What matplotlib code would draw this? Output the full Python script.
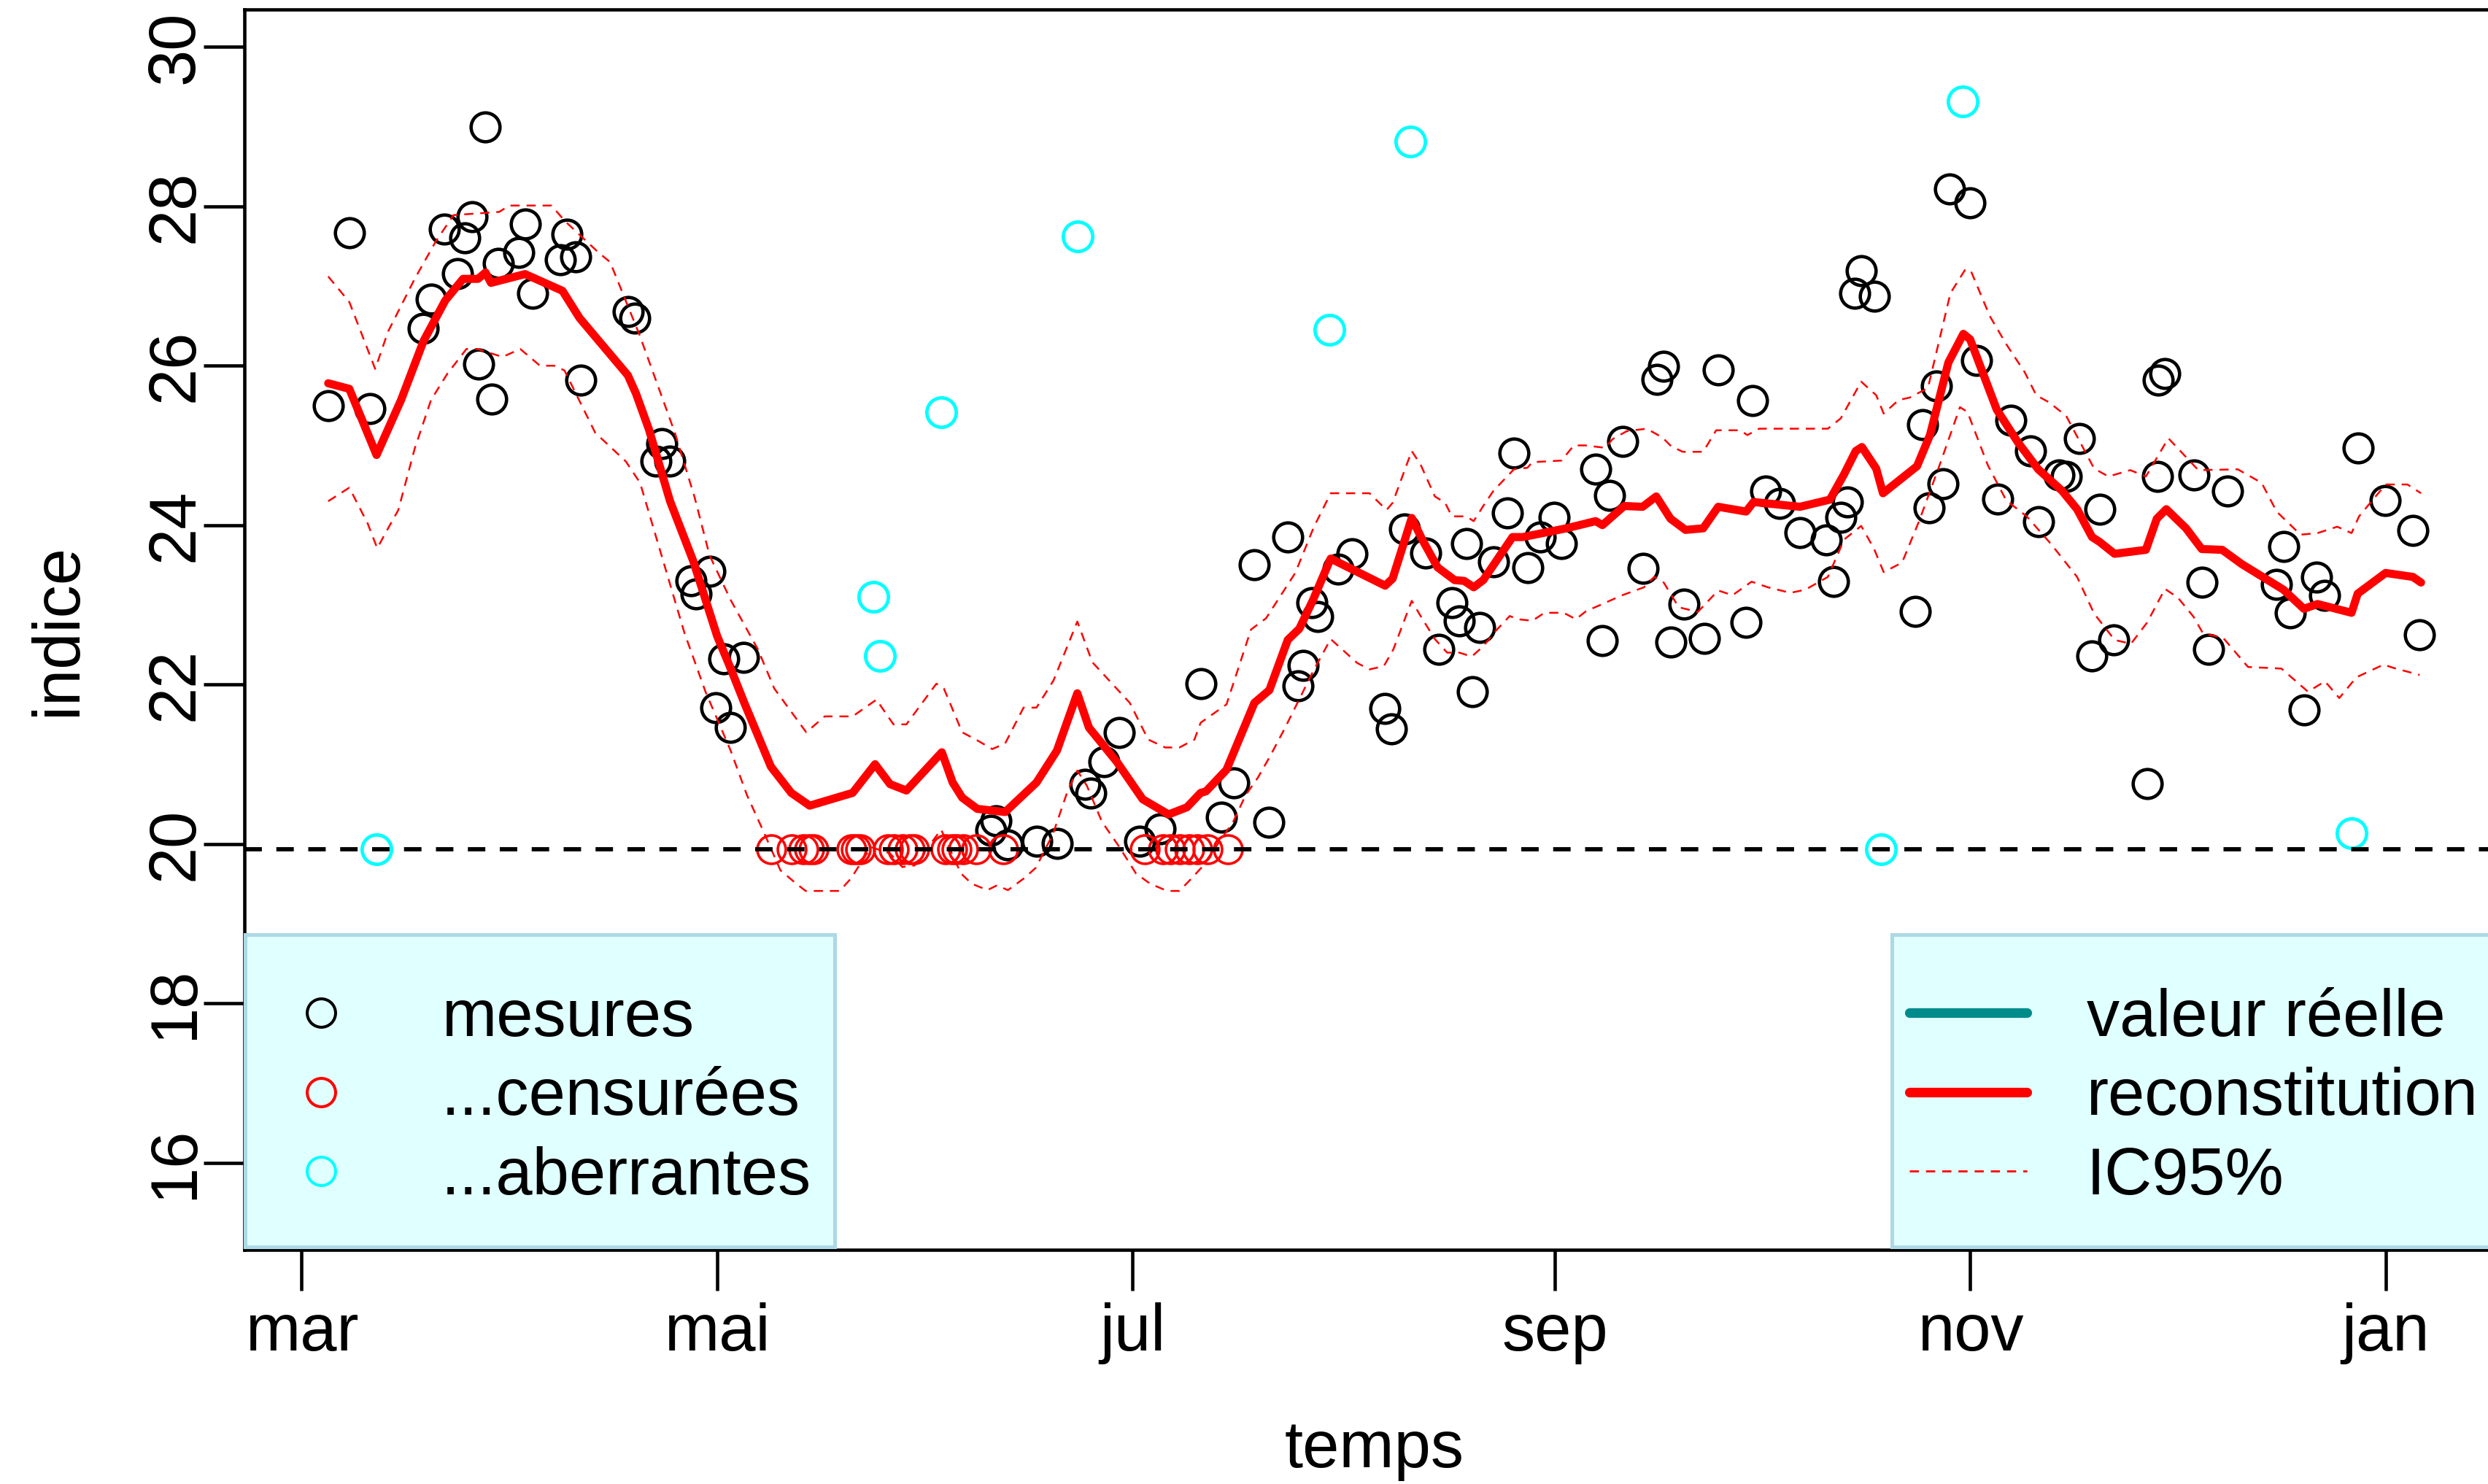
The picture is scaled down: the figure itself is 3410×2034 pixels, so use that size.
import matplotlib
matplotlib.use("Agg")
import matplotlib.pyplot as plt
from matplotlib.lines import Line2D
from matplotlib.patches import Rectangle

# ---------------- data (days since 1 March) ----------------
month_days = [0, 61, 122, 184, 245, 306]
month_labels = ["mar", "mai", "jul", "sep", "nov", "jan"]
y_ticks = [16, 18, 20, 22, 24, 26, 28, 30]

cens_level = 19.93

mes_days = [3.9, 7.0, 10.0, 17.9, 19.0, 21.0, 22.9, 24.0, 25.0, 26.0, 27.0, 27.9, 28.9,
            31.9, 32.9, 33.9, 38.0, 38.9, 40.2, 41.0, 47.9, 48.9, 52.0, 52.9, 54.1, 57.2,
            57.9, 59.9, 60.8, 62.0, 62.9, 64.9, 101.2, 102.0, 103.7, 107.9, 110.9, 115.0,
            115.9, 117.8, 120.0, 123.0, 126.0, 132.0, 135.0, 136.9, 139.9, 142.0, 144.8,
            146.3, 147.0, 148.3, 149.2, 152.2, 154.2, 159.0, 160.0, 161.9, 165.0, 167.0,
            168.9, 170.0, 171.0, 171.9, 173.0, 175.0, 177.0, 178.0, 180.0, 181.9, 183.9,
            185.0, 190.0, 191.0, 192.0, 194.0, 197.0, 199.0, 200.0, 201.0, 203.0, 206.0,
            208.0, 212.1, 213.0, 215.0, 217.0, 220.0, 223.9, 224.9, 226.0, 227.0, 228.0,
            229.0, 230.9, 236.9, 238.0, 239.0, 240.0, 241.0, 242.0, 245.0, 245.9, 249.0,
            251.0, 253.9, 255.0, 258.0, 259.1, 261.0, 262.9, 264.0, 266.1, 271.0, 272.5,
            272.6, 273.6, 277.9, 279.0, 280.0, 282.8, 290.0, 291.0, 292.0, 294.0, 295.9,
            297.0, 302.0, 305.9, 310.0, 311.0]
mes_vals = [25.50, 27.67, 25.46, 26.47, 26.84, 27.71, 27.16, 27.60, 27.87, 26.02, 29.00,
            25.58, 27.28, 27.42, 27.78, 26.91, 27.33, 27.65, 27.37, 25.82, 26.68, 26.60,
            24.80, 25.02, 24.80, 23.30, 23.14, 23.42, 21.71, 22.32, 21.46, 22.34, 20.17,
            20.29, 19.99, 20.03, 20.01, 20.75, 20.64, 21.03, 21.40, 20.03, 20.19, 22.01,
            20.34, 20.77, 23.50, 20.27, 23.85, 21.98, 22.24, 23.03, 22.85, 23.45, 23.64,
            21.70, 21.44, 23.95, 23.65, 22.44, 23.03, 22.80, 23.77, 21.91, 22.72, 23.54,
            24.15, 24.90, 23.47, 23.85, 24.10, 23.77, 24.70, 22.55, 24.37, 25.05, 23.46,
            25.83, 25.99, 22.53, 23.01, 22.58, 25.95, 22.78, 25.56, 24.43, 24.27, 23.91,
            23.81, 23.29, 24.10, 24.29, 26.91, 27.19, 26.87, 22.92, 25.26, 24.22, 25.75,
            24.52, 28.22, 28.04, 26.07, 24.33, 25.32, 24.93, 24.04, 24.63, 24.61, 25.09,
            22.36, 24.20, 22.56, 20.76, 24.61, 25.82, 25.90, 24.63, 23.28, 22.44, 24.43,
            23.26, 23.73, 22.90, 21.68, 23.35, 23.12, 24.97, 24.31, 23.93, 22.62]

cens_days = [69.0, 71.9, 73.7, 74.5, 75.2, 80.7, 81.4, 82.0, 86.1, 87.0, 88.2, 89.3, 90.0,
             94.6, 95.5, 96.2, 97.1, 99.1, 103.0, 123.8, 126.5, 127.6, 128.9, 130.3, 131.5,
             133.0, 136.0]

aber_days = [10.95, 83.9, 84.9, 93.9, 114.0, 150.9, 162.8, 231.9, 243.9, 301.0]
aber_vals = [19.93, 23.10, 22.36, 25.42, 27.62, 26.45, 28.81, 19.93, 29.32, 20.13]

recon_days = [3.9, 7.0, 11.0, 14.6, 17.9, 21.1, 23.7, 25.9, 27.0, 27.8, 32.8, 38.3, 40.8,
              47.9, 49.1, 51.0, 54.1, 57.5, 61.0, 63.0, 65.0, 68.9, 71.9, 74.6, 80.9, 84.2,
              86.4, 88.8, 94.0, 95.6, 97.0, 99.2, 103.3, 107.9, 110.9, 113.9, 115.6, 119.7,
              123.5, 127.3, 130.0, 132.0, 132.8, 135.8, 139.9, 142.1, 144.8, 146.5, 148.5,
              151.1, 159.1, 160.2, 163.0, 164.6, 166.8, 169.3, 170.7, 172.1, 173.5, 177.8,
              179.3, 185.7, 190.0, 191.0, 194.2, 196.9, 198.9, 201.0, 203.2, 205.8, 208.0,
              212.1, 213.2, 220.0, 224.4, 226.5, 228.2, 229.1, 231.2, 232.2, 237.2, 239.1,
              241.8, 244.0, 245.0, 248.9, 252.0, 255.0, 258.5, 260.7, 262.9, 264.0, 266.2,
              270.8, 272.4, 273.8, 276.7, 279.0, 282.0, 284.9, 291.0, 294.0, 296.0, 301.0,
              301.9, 306.0, 310.0, 311.2]
recon_vals = [25.78, 25.71, 24.88, 25.57, 26.31, 26.82, 27.09, 27.09, 27.17, 27.04, 27.15,
              26.94, 26.60, 25.88, 25.65, 25.20, 24.30, 23.55, 22.61, 22.20, 21.77, 20.97,
              20.64, 20.48, 20.64, 21.00, 20.75, 20.67, 21.15, 20.77, 20.58, 20.44, 20.40,
              20.77, 21.17, 21.89, 21.46, 21.03, 20.56, 20.37, 20.46, 20.64, 20.66, 20.93,
              21.77, 21.93, 22.56, 22.70, 23.06, 23.58, 23.24, 23.33, 24.09, 23.81, 23.47,
              23.31, 23.30, 23.22, 23.31, 23.85, 23.85, 23.96, 24.05, 24.00, 24.24, 24.23,
              24.36, 24.08, 23.94, 23.96, 24.23, 24.17, 24.29, 24.23, 24.32, 24.64, 24.93,
              24.98, 24.71, 24.40, 24.74, 25.13, 26.04, 26.40, 26.33, 25.45, 25.04, 24.70,
              24.43, 24.20, 23.85, 23.79, 23.64, 23.69, 24.08, 24.20, 23.96, 23.70, 23.69,
              23.51, 23.19, 22.95, 23.01, 22.90, 23.14, 23.40, 23.35, 23.28]

ci_up_days = [3.9, 7.0, 10.8, 12.7, 16.6, 19.7, 22.3, 29.0, 30.5, 36.7, 38.6, 43.6, 45.3,
              49.6, 54.8, 57.7, 59.9, 63.0, 67.0, 69.4, 74.1, 76.8, 80.9, 84.4, 86.9, 88.8,
              93.2, 94.3, 97.0, 99.2, 101.4, 103.3, 106.0, 107.9, 110.4, 113.9, 116.1,
              121.6, 124.3, 126.8, 128.9, 131.1, 132.0, 135.8, 139.4, 141.6, 145.9, 148.6,
              151.1, 156.8, 159.3, 160.2, 163.0, 164.3, 166.4, 167.9, 168.9, 171.0, 172.1,
              173.5, 175.0, 178.0, 180.0, 180.7, 185.0, 186.8, 188.5, 191.4, 192.5, 194.6,
              197.5, 199.8, 201.1, 202.8, 205.8, 207.7, 211.2, 212.3, 214.0, 224.1, 226.0,
              229.0, 231.2, 232.3, 234.5, 236.1, 238.8, 242.1, 244.3, 245.1, 247.9, 250.3,
              253.0, 254.7, 256.6, 259.1, 263.2, 265.3, 268.5, 270.8, 274.1, 278.5, 284.3,
              287.8, 290.0, 293.5, 296.0, 298.9, 301.0, 302.1, 306.0, 309.2, 311.2]
ci_up_vals = [27.12, 26.80, 25.96, 26.43, 27.09, 27.56, 27.89, 27.93, 28.01, 28.01, 27.82,
              27.42, 27.30, 26.39, 25.16, 24.35, 23.62, 23.06, 22.44, 21.95, 21.40, 21.60,
              21.60, 21.81, 21.50, 21.50, 22.01, 21.95, 21.40, 21.30, 21.19, 21.26, 21.71,
              21.71, 22.05, 22.79, 22.28, 21.77, 21.31, 21.21, 21.21, 21.31, 21.52, 21.75,
              22.69, 22.83, 23.40, 23.97, 24.40, 24.40, 24.19, 24.28, 24.93, 24.76, 24.36,
              24.28, 24.11, 24.11, 24.05, 24.24, 24.43, 24.70, 24.72, 24.79, 24.81, 25.00,
              25.00, 24.97, 25.08, 25.18, 25.21, 25.10, 24.99, 24.92, 24.92, 25.19, 25.19,
              25.13, 25.21, 25.21, 25.34, 25.80, 25.63, 25.40, 25.57, 25.60, 25.72, 26.91,
              27.21, 27.19, 26.62, 26.27, 25.92, 25.63, 25.54, 25.37, 24.71, 24.61, 24.69,
              24.61, 25.09, 24.69, 24.70, 24.53, 24.17, 23.88, 23.90, 23.98, 23.90, 24.11,
              24.51, 24.51, 24.40]

ci_low_days = [3.9, 7.0, 9.7, 11.1, 12.5, 14.2, 16.6, 19.0, 21.4, 24.2, 25.8, 29.5, 32.1,
               35.0, 37.1, 38.6, 40.5, 43.1, 47.6, 49.7, 53.4, 56.2, 59.3, 63.0, 65.4, 67.9,
               70.3, 72.5, 74.0, 79.0, 80.7, 82.1, 83.6, 86.4, 88.2, 90.0, 93.9, 96.8, 98.4,
               100.7, 102.1, 103.7, 106.1, 107.8, 110.3, 112.5, 113.9, 115.3, 117.5, 120.0,
               122.5, 124.6, 127.1, 128.9, 130.7, 132.1, 134.3, 136.8, 138.6, 140.4, 142.2,
               144.3, 146.4, 148.6, 151.1, 155.0, 156.8, 158.9, 160.3, 163.0, 164.3, 166.4,
               168.2, 170.0, 171.8, 173.5, 175.3, 177.4, 178.5, 180.7, 182.5, 185.3, 187.1,
               188.6, 191.0, 193.9, 197.1, 198.6, 200.0, 202.2, 205.0, 208.0, 210.1, 212.9,
               215.3, 218.6, 220.8, 224.1, 226.5, 229.0, 230.9, 232.3, 235.0, 237.5, 240.5,
               243.5, 244.6, 247.6, 250.3, 253.3, 256.9, 260.7, 263.2, 266.2, 268.6, 271.0,
               273.6, 275.5, 277.8, 279.2, 282.1, 285.8, 290.7, 294.6, 297.1, 299.2, 301.7,
               305.7, 307.1, 311.0]
ci_low_vals = [24.30, 24.47, 24.02, 23.71, 23.93, 24.19, 24.96, 25.57, 25.90, 26.21, 26.21,
               26.11, 26.21, 26.00, 26.00, 25.94, 25.61, 25.16, 24.80, 24.53, 23.46, 22.65,
               21.91, 21.17, 20.61, 20.14, 19.67, 19.51, 19.41, 19.41, 19.57, 19.76, 19.96,
               19.88, 19.71, 19.73, 20.18, 19.63, 19.50, 19.42, 19.48, 19.42, 19.57, 19.70,
               20.12, 20.67, 20.92, 20.73, 20.28, 19.97, 19.63, 19.50, 19.41, 19.41, 19.57,
               19.70, 19.97, 20.28, 20.61, 20.83, 21.10, 21.44, 21.80, 22.18, 22.57, 22.27,
               22.19, 22.23, 22.44, 23.05, 22.86, 22.57, 22.40, 22.40, 22.35, 22.48, 22.67,
               22.86, 22.82, 22.80, 22.90, 22.90, 22.82, 22.92, 23.01, 23.12, 23.22, 23.35,
               23.28, 22.97, 22.91, 23.18, 23.12, 23.29, 23.22, 23.15, 23.19, 23.35, 23.82,
               23.99, 23.70, 23.41, 23.53, 24.05, 24.75, 25.48, 25.42, 24.75, 24.31, 24.11,
               23.76, 23.35, 22.89, 22.56, 22.51, 22.78, 23.20, 23.09, 22.85, 22.64, 22.59,
               22.22, 22.20, 21.91, 22.04, 21.83, 22.09, 22.25, 22.21, 22.12]

legend1_labels = ["mesures", "...censurées", "...aberrantes"]
legend2_labels = ["valeur réelle", "reconstitution", "IC95%"]

# ---------------- figure ----------------
plt.rcParams["font.family"] = ["Liberation Sans", "DejaVu Sans"]
FS = 65
W, H = 3410, 2034

fig = plt.figure(figsize=(W / 100, H / 100), dpi=100)
ax = fig.add_axes([335 / W, 1 - 1713 / H, 3098 / W, 1700 / H])
ax.set_xlim(-8.4, 323.5)
ax.set_ylim(14.907, 30.47)

ax.plot(mes_days, mes_vals, ls="none", marker="o", mfc="none", mec="black",
        ms=28.5, mew=3.3, zorder=2)
ax.plot(cens_days, [cens_level] * len(cens_days), ls="none", marker="o", mfc="none",
        mec="red", ms=28, mew=2.6, zorder=2)
ax.plot(aber_days, aber_vals, ls="none", marker="o", mfc="none", mec="cyan",
        ms=29, mew=3.4, zorder=2)

ax.plot(ci_up_days, ci_up_vals, color="red", lw=1.8, ls=(0, (5, 3.8)), zorder=3)
ax.plot(ci_low_days, ci_low_vals, color="red", lw=1.8, ls=(0, (5, 3.8)), zorder=3)
ax.plot(recon_days, recon_vals, color="red", lw=8, solid_joinstyle="round",
        solid_capstyle="round", zorder=3)
ax.axhline(cens_level, color="black", lw=4.2, ls=(0, (4.1, 3.4)), zorder=4)

for s in ax.spines.values():
    s.set_linewidth(3.3)

ax.set_xticks(month_days)
ax.set_xticklabels(month_labels)
ax.set_yticks(y_ticks)
ax.set_yticklabels([str(t) for t in y_ticks], rotation=90, va="center")
ax.tick_params(axis="both", which="major", length=40, width=3.3, labelsize=FS,
               direction="out")
ax.tick_params(axis="x", pad=11.5)
ax.tick_params(axis="y", pad=-2.9)

ax.set_xlabel("temps", fontsize=FS, va="baseline")
ax.xaxis.set_label_coords(0.5, -0.175)
ax.set_ylabel("indice", fontsize=FS, va="baseline")
ax.yaxis.set_label_coords(-0.0746, 0.5)

# ---------------- legends ----------------
box_top = (1713 - 1281) / 1700
box_bot = 0.0025
ax.add_patch(Rectangle((0.00045, box_bot), (1144.5 - 336.4) / 3098, box_top - box_bot,
                       transform=ax.transAxes, fc="#E0FFFF", ec="#ADD8E6", lw=3.6,
                       zorder=4.5, clip_on=False))
ax.add_patch(Rectangle(((2593 - 335) / 3098, box_bot), 0.35, box_top - box_bot,
                       transform=ax.transAxes, fc="#E0FFFF", ec="#ADD8E6", lw=3.6,
                       zorder=4.5, clip_on=False))

h1 = [Line2D([], [], ls="none", marker="o", mfc="none", mec=c, ms=28, mew=2.9)
      for c in ("black", "red", "cyan")]
leg1 = ax.legend(h1, legend1_labels, loc="center left",
                 bbox_to_anchor=((393.1 - 335) / 3098, 0.1225),
                 bbox_transform=ax.transAxes, frameon=False, borderpad=0,
                 borderaxespad=0, handlelength=1.0384, handletextpad=1.304,
                 labelspacing=0.259, fontsize=FS)
leg1.set_zorder(5)
ax.add_artist(leg1)

h2 = [Line2D([], [], color="#008B8B", lw=9.5, solid_capstyle="round"),
      Line2D([], [], color="red", lw=9.5, solid_capstyle="round"),
      Line2D([], [], color="red", lw=2.0, ls=(0, (4.5, 3.5)))]
leg2 = ax.legend(h2, legend2_labels, loc="center left",
                 bbox_to_anchor=((2617 - 335) / 3098, 0.1225),
                 bbox_transform=ax.transAxes, frameon=False, borderpad=0,
                 borderaxespad=0, handlelength=1.7834, handletextpad=0.9083,
                 labelspacing=0.259, fontsize=FS)
leg2.set_zorder(5)

fig.savefig("out.png", dpi=100)
